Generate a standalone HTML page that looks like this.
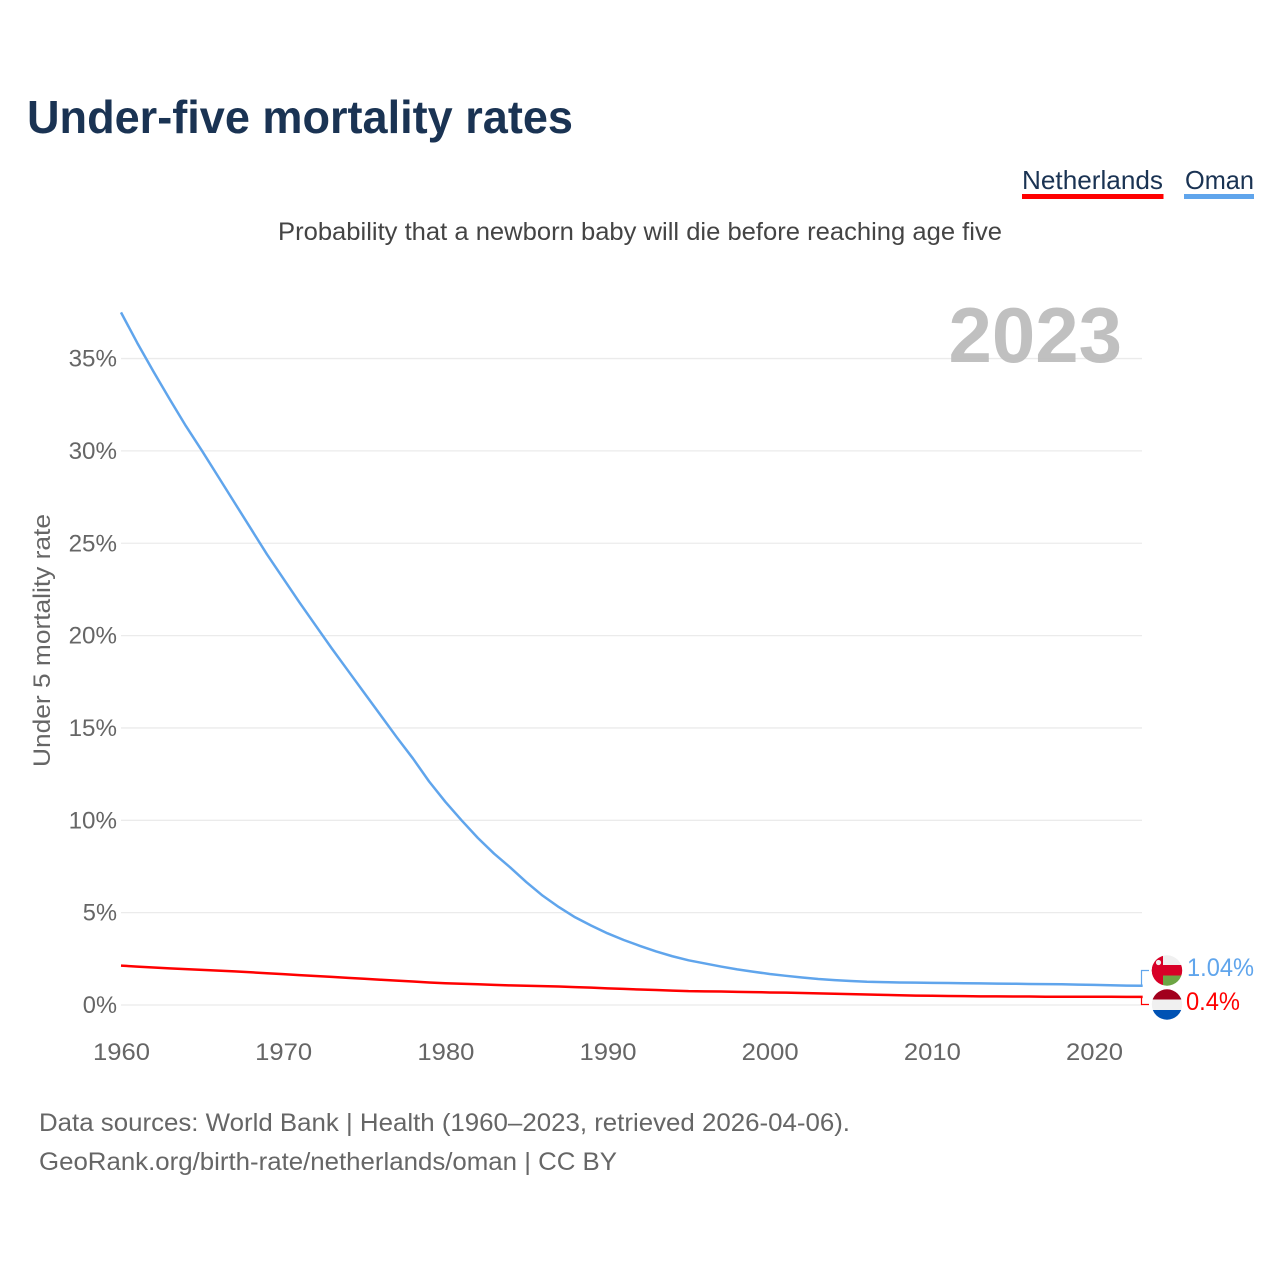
<!DOCTYPE html>
<html lang="en">
<head>
<meta charset="utf-8">
<title>Under-five mortality rates</title>
<style>
html,body{margin:0;padding:0;background:#fff}
svg{display:block;font-family:"Liberation Sans",Arial,sans-serif}
</style>
</head>
<body>
<svg id="chart" width="1280" height="1280" viewBox="0 0 1280 1280" xmlns="http://www.w3.org/2000/svg">
  <defs>
    <clipPath id="clip-oman"><circle cx="1167" cy="970.5" r="15.2"/></clipPath>
    <clipPath id="clip-nl"><circle cx="1167" cy="1004.5" r="15.2"/></clipPath>
  </defs>
  <text x="27" y="133" font-size="46" font-weight="700" fill="#1a3353" textLength="546" lengthAdjust="spacingAndGlyphs">Under-five mortality rates</text>
  <g>
    <text x="1022" y="189" font-size="26" fill="#1a3353" textLength="141" lengthAdjust="spacingAndGlyphs">Netherlands</text>
    <rect x="1022" y="194" width="141.500" height="5" fill="#ff0000"/>
  </g>
  <g>
    <text x="1185" y="189" font-size="26" fill="#1a3353" textLength="69" lengthAdjust="spacingAndGlyphs">Oman</text>
    <rect x="1184" y="194" width="70" height="5" fill="#60a5ec"/>
  </g>
  <text x="278" y="240" font-size="25" fill="#444" textLength="724" lengthAdjust="spacingAndGlyphs">Probability that a newborn baby will die before reaching age five</text>
  <g id="grid"></g>
  <text x="1122" y="362" font-size="78" font-weight="700" fill="#bdbdbd" fill-opacity="0.95" text-anchor="end">2023</text>
  <g id="yticks"></g>
  <g id="xticks"></g>
  <text transform="translate(50,767) rotate(-90)" font-size="24" fill="#666" textLength="253" lengthAdjust="spacingAndGlyphs">Under 5 mortality rate</text>
  <g id="series"></g>
  <g id="ends"></g>
  <g clip-path="url(#clip-oman)">
    <rect x="1150" y="954" width="34" height="34" fill="#f0f0f0"/>
    <rect x="1150" y="965" width="34" height="10.500" fill="#d80027"/>
    <rect x="1150" y="954" width="13" height="34" fill="#d80027"/>
    <rect x="1163" y="975.500" width="21" height="13" fill="#6da544"/>
    <circle cx="1158.500" cy="962.500" r="2.600" fill="#f0f0f0"/>
  </g>
  <g clip-path="url(#clip-nl)">
    <rect x="1150" y="988" width="34" height="11.500" fill="#a2001d"/>
    <rect x="1150" y="999.500" width="34" height="10.500" fill="#f0f0f0"/>
    <rect x="1150" y="1010" width="34" height="11" fill="#0052b4"/>
  </g>
  <text id="label-oman" x="1187" y="976" font-size="25" fill="#60a5ec" textLength="67" lengthAdjust="spacingAndGlyphs"></text>
  <text id="label-nl" x="1186" y="1010" font-size="25" fill="#ff0000" textLength="54" lengthAdjust="spacingAndGlyphs"></text>
  <text x="39" y="1131" font-size="25" fill="#666" textLength="811" lengthAdjust="spacingAndGlyphs">Data sources: World Bank | Health (1960–2023, retrieved 2026-04-06).</text>
  <text x="39" y="1170" font-size="25" fill="#666" textLength="578" lengthAdjust="spacingAndGlyphs">GeoRank.org/birth-rate/netherlands/oman | CC BY</text>
</svg>
<script>
const firstYear = 1960;
const omanValues = [37.5,35.85,34.3,32.8,31.35,30.0,28.6,27.2,25.8,24.4,23.1,21.8,20.55,19.3,18.1,16.9,15.7,14.5,13.35,12.1,11.0,10.0,9.05,8.2,7.45,6.65,5.92,5.3,4.75,4.3,3.88,3.52,3.2,2.9,2.64,2.42,2.25,2.08,1.93,1.8,1.68,1.58,1.49,1.41,1.35,1.3,1.26,1.24,1.22,1.21,1.2,1.19,1.18,1.17,1.16,1.15,1.14,1.13,1.12,1.1,1.09,1.07,1.05,1.04];
const netherlandsValues = [2.13,2.08,2.03,1.98,1.94,1.9,1.86,1.82,1.77,1.72,1.67,1.62,1.57,1.52,1.47,1.42,1.37,1.32,1.27,1.22,1.18,1.15,1.12,1.09,1.06,1.04,1.02,1.0,0.97,0.94,0.9,0.87,0.84,0.81,0.78,0.75,0.74,0.73,0.71,0.7,0.68,0.67,0.65,0.63,0.61,0.59,0.57,0.55,0.53,0.51,0.5,0.49,0.48,0.47,0.47,0.46,0.46,0.45,0.45,0.45,0.45,0.45,0.44,0.44];
const yTickValues = [0,5,10,15,20,25,30,35];
const xTickValues = [1960,1970,1980,1990,2000,2010,2020];
const omanEndLabel = "1.04%";
const netherlandsEndLabel = "0.4%";

const NS = "http://www.w3.org/2000/svg";
function xScale(year){ return 121 + (year - 1960) * 16.217; }
function yScale(v){ return 1005 - v * 18.47; }
function linePath(values){
  return values.map(function(v,i){
    return (i ? "L" : "M") + xScale(firstYear + i).toFixed(2) + " " + yScale(v).toFixed(2);
  }).join("");
}
const grid = document.getElementById("grid");
yTickValues.forEach(function(v){
  const l = document.createElementNS(NS,"line");
  
  
  l.setAttribute("x1",121); l.setAttribute("x2",1142);
  l.setAttribute("y1",yScale(v)); l.setAttribute("y2",yScale(v));
  l.setAttribute("stroke","#ebebeb"); l.setAttribute("stroke-width","1.3");
  grid.appendChild(l);
});
const yt = document.getElementById("yticks");
yTickValues.forEach(function(v){
  const t = document.createElementNS(NS,"text");
  
  
  const s = v + "%";
  t.textContent = s;
  t.setAttribute("x",117 - (14.2*(s.length-1)+20));
  t.setAttribute("y",yScale(v)+8);
  t.setAttribute("font-size","24.500");
  t.setAttribute("fill","#666");
  t.setAttribute("textLength",14.2*(s.length-1)+20);
  t.setAttribute("lengthAdjust","spacingAndGlyphs");
  yt.appendChild(t);
});
const xt = document.getElementById("xticks");
xTickValues.forEach(function(y){
  const t = document.createElementNS(NS,"text");
  
  
  t.textContent = String(y);
  t.setAttribute("x",xScale(y)-28);
  t.setAttribute("y",1060);
  t.setAttribute("font-size","24.500");
  t.setAttribute("fill","#666");
  t.setAttribute("textLength",57);
  t.setAttribute("lengthAdjust","spacingAndGlyphs");
  xt.appendChild(t);
});
const series = document.getElementById("series");
const omanLine = document.createElementNS(NS,"path");


omanLine.setAttribute("d",linePath(omanValues));
omanLine.setAttribute("fill","none");
omanLine.setAttribute("stroke","#60a5ec");
omanLine.setAttribute("stroke-width","2.5");
omanLine.setAttribute("stroke-linejoin","round");
series.appendChild(omanLine);
const nlLine = document.createElementNS(NS,"path");


nlLine.setAttribute("d",linePath(netherlandsValues));
nlLine.setAttribute("fill","none");
nlLine.setAttribute("stroke","#ff0000");
nlLine.setAttribute("stroke-width","2.5");
nlLine.setAttribute("stroke-linejoin","round");
series.appendChild(nlLine);

const ends = document.getElementById("ends");
const endX = xScale(firstYear + omanValues.length - 1);
const omanConn = document.createElementNS(NS,"path");


omanConn.setAttribute("d","M"+(endX-1.5)+" "+yScale(omanValues[omanValues.length-1])+"H1141.500V970.500H1149");
omanConn.setAttribute("fill","none");
omanConn.setAttribute("stroke","#60a5ec");
omanConn.setAttribute("stroke-width","1.2");
ends.appendChild(omanConn);
const nlConn = document.createElementNS(NS,"path");


nlConn.setAttribute("d","M"+(endX-1.5)+" "+yScale(netherlandsValues[netherlandsValues.length-1])+"H1141.500V1004.500H1149");
nlConn.setAttribute("fill","none");
nlConn.setAttribute("stroke","#ff0000");
nlConn.setAttribute("stroke-width","1.2");
ends.appendChild(nlConn);

document.getElementById("label-oman").textContent = omanEndLabel;
document.getElementById("label-nl").textContent = netherlandsEndLabel;
</script>
</body>
</html>
